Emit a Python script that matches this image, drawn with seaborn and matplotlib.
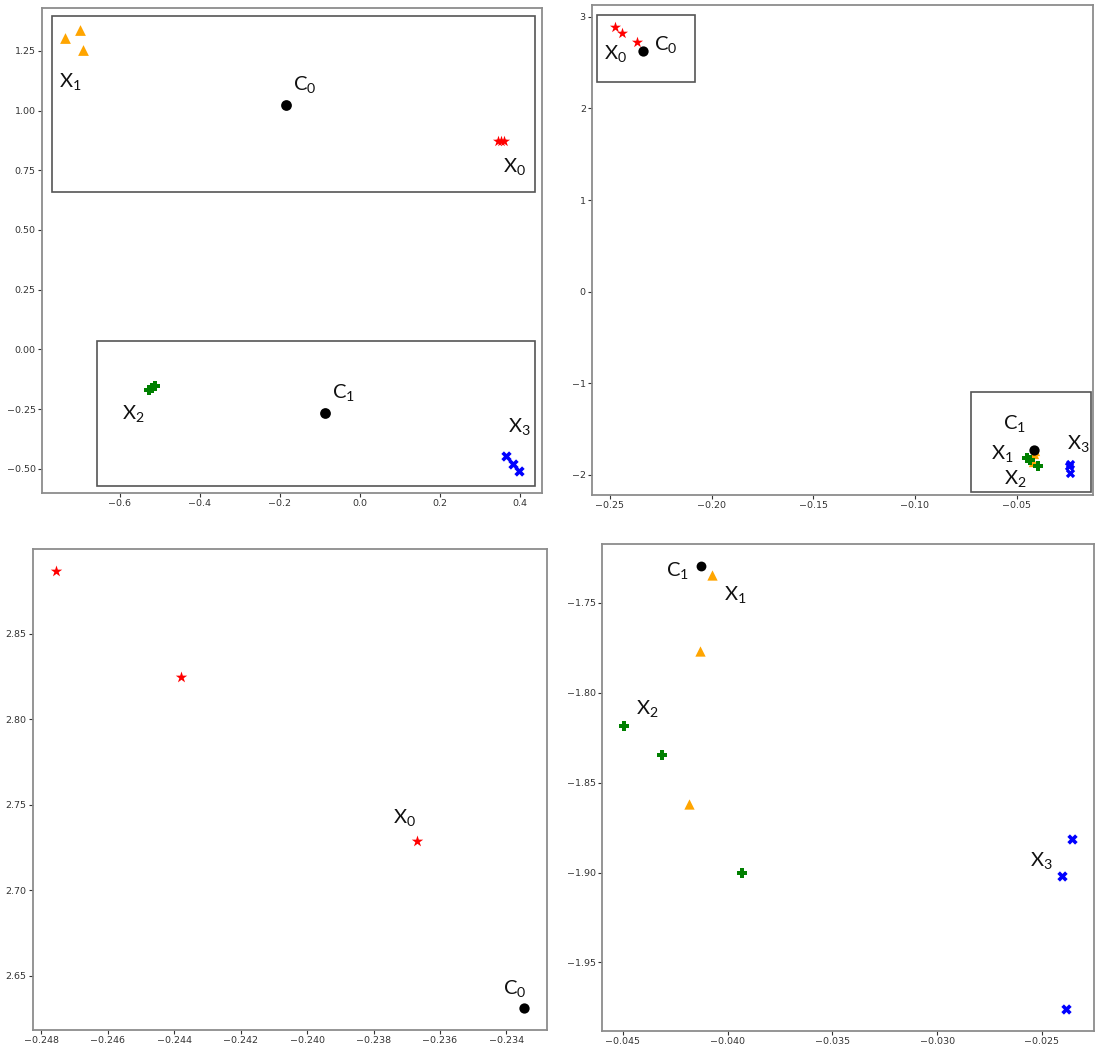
import matplotlib
matplotlib.use("Agg")
import matplotlib.pyplot as plt
import seaborn as sns
from matplotlib.patches import Rectangle
from matplotlib.ticker import MultipleLocator

sns.set_style("white")
plt.rcParams["font.family"] = ["DejaVu Sans"]

# ---- first embedding (two well separated groups) ----
a_x0_x = [0.346, 0.352, 0.360]
a_x0_y = [0.872, 0.874, 0.871]
a_x1_x = [-0.7375, -0.6997, -0.6927]
a_x1_y = [1.3018, 1.3368, 1.2542]
a_x2_x = [-0.527, -0.519, -0.511]
a_x2_y = [-0.168, -0.160, -0.151]
a_x3_x = [0.366, 0.383, 0.398]
a_x3_y = [-0.4455, -0.4777, -0.5084]
a_c_x = [-0.1852, -0.0869]
a_c_y = [1.0238, -0.268]

# ---- second embedding ----
b_x0_x = [-0.24755, -0.24381, -0.2367]
b_x0_y = [2.8867, 2.8249, 2.7288]
b_x1_x = [-0.04077, -0.04133, -0.04183]
b_x1_y = [-1.7345, -1.7769, -1.862]
b_x2_x = [-0.04493, -0.04315, -0.03933]
b_x2_y = [-1.8186, -1.8348, -1.900]
b_x3_x = [-0.02358, -0.02402, -0.02385]
b_x3_y = [-1.8811, -1.9018, -1.9758]
b_c_x = [-0.23348, -0.04128]
b_c_y = [2.631, -1.7296]

# group boxes (x0, y0, x1, y1)
a_boxes = [(-0.7705, 0.66, 0.4373, 1.3955), (-0.6576, -0.570, 0.4373, 0.035)]
b_boxes = [(-0.2563, 2.285, -0.2082, 3.021), (-0.0726, -2.19, -0.0135, -1.096)]

STYLE = {
    "X0": dict(color="red", marker="*"),
    "X1": dict(color="orange", marker="^"),
    "X2": dict(color="green", marker="P"),
    "X3": dict(color="blue", marker="X"),
    "C": dict(color="black", marker="o"),
}


def lab(name, idx):
    return r"$\mathregular{%s_{%d}}$" % (name, idx)


def scatter(ax, xs, ys, key, s=45):
    sns.scatterplot(x=xs, y=ys, ax=ax, s=s, linewidth=0, legend=False, **STYLE[key])


def style_axes(ax, xstep, ystep):
    ax.xaxis.set_major_locator(MultipleLocator(xstep))
    ax.yaxis.set_major_locator(MultipleLocator(ystep))
    ax.tick_params(axis="both", labelsize=6.8, colors="#333333", length=3, width=0.8,
                   bottom=True, left=True, pad=1.5)
    for sp in ax.spines.values():
        sp.set_color("#8c8c8c")
        sp.set_linewidth(1.3)


def boxes(ax, rects):
    xl, yl = ax.get_xlim(), ax.get_ylim()
    for x0, y0, x1, y1 in rects:
        ax.add_patch(Rectangle((x0, y0), x1 - x0, y1 - y0, fill=False,
                               edgecolor="#555555", linewidth=1.2))
    ax.set_xlim(xl)
    ax.set_ylim(yl)


def texts(ax, items):
    for x, y, t in items:
        ax.text(x, y, t, fontsize=14.5, family="Lato", ha="center", va="center",
                color="#111111")


fig = plt.figure(figsize=(10.97, 10.50), dpi=100)
ax_tl = fig.add_axes([0.0383, 0.5305, 0.4558, 0.4619])
ax_tr = fig.add_axes([0.5397, 0.5286, 0.4567, 0.4667])
ax_bl = fig.add_axes([0.0301, 0.0190, 0.4686, 0.4581])
ax_br = fig.add_axes([0.5488, 0.0181, 0.4485, 0.4638])

# top left: first embedding
scatter(ax_tl, a_x1_x, a_x1_y, "X1", s=60)
scatter(ax_tl, a_x0_x, a_x0_y, "X0", s=70)
scatter(ax_tl, a_x2_x, a_x2_y, "X2", s=55)
scatter(ax_tl, a_x3_x, a_x3_y, "X3", s=55)
scatter(ax_tl, a_c_x, a_c_y, "C", s=60)
style_axes(ax_tl, 0.2, 0.25)
boxes(ax_tl, a_boxes)
texts(ax_tl, [(-0.7243, 1.1213, lab("X", 1)), (-0.1387, 1.1073, lab("C", 0)),
              (0.3854, 0.7677, lab("X", 0)), (-0.5654, -0.268, lab("X", 2)),
              (-0.0413, -0.1816, lab("C", 1)), (0.3977, -0.324, lab("X", 3))])

# top right: second embedding, full view
scatter(ax_tr, b_x0_x, b_x0_y, "X0", s=70)
scatter(ax_tr, b_x1_x, b_x1_y, "X1")
scatter(ax_tr, b_x2_x, b_x2_y, "X2")
scatter(ax_tr, b_x3_x, b_x3_y, "X3")
scatter(ax_tr, b_c_x, b_c_y, "C", s=55)
style_axes(ax_tr, 0.05, 1)
boxes(ax_tr, b_boxes)
texts(ax_tr, [(-0.2471, 2.604, lab("X", 0)), (-0.2226, 2.695, lab("C", 0)),
              (-0.0512, -1.441, lab("C", 1)), (-0.0568, -1.764, lab("X", 1)),
              (-0.0505, -2.04, lab("X", 2)), (-0.0197, -1.659, lab("X", 3))])

# bottom left: close-up of the first group
scatter(ax_bl, b_x0_x, b_x0_y, "X0", s=75)
scatter(ax_bl, b_c_x[:1], b_c_y[:1], "C", s=55)
style_axes(ax_bl, 0.002, 0.05)
texts(ax_bl, [(-0.23706, 2.7426, lab("X", 0)), (-0.23375, 2.6428, lab("C", 0))])

# bottom right: close-up of the second group
scatter(ax_br, b_c_x[1:], b_c_y[1:], "C", s=50)
scatter(ax_br, b_x1_x, b_x1_y, "X1", s=55)
scatter(ax_br, b_x2_x, b_x2_y, "X2", s=55)
scatter(ax_br, b_x3_x, b_x3_y, "X3", s=55)
style_axes(ax_br, 0.005, 0.05)
texts(ax_br, [(-0.04242, -1.7318, lab("C", 1)), (-0.03965, -1.7456, lab("X", 1)),
              (-0.04385, -1.8085, lab("X", 2)), (-0.02502, -1.8932, lab("X", 3))])

fig.savefig("out.png", dpi=100)
